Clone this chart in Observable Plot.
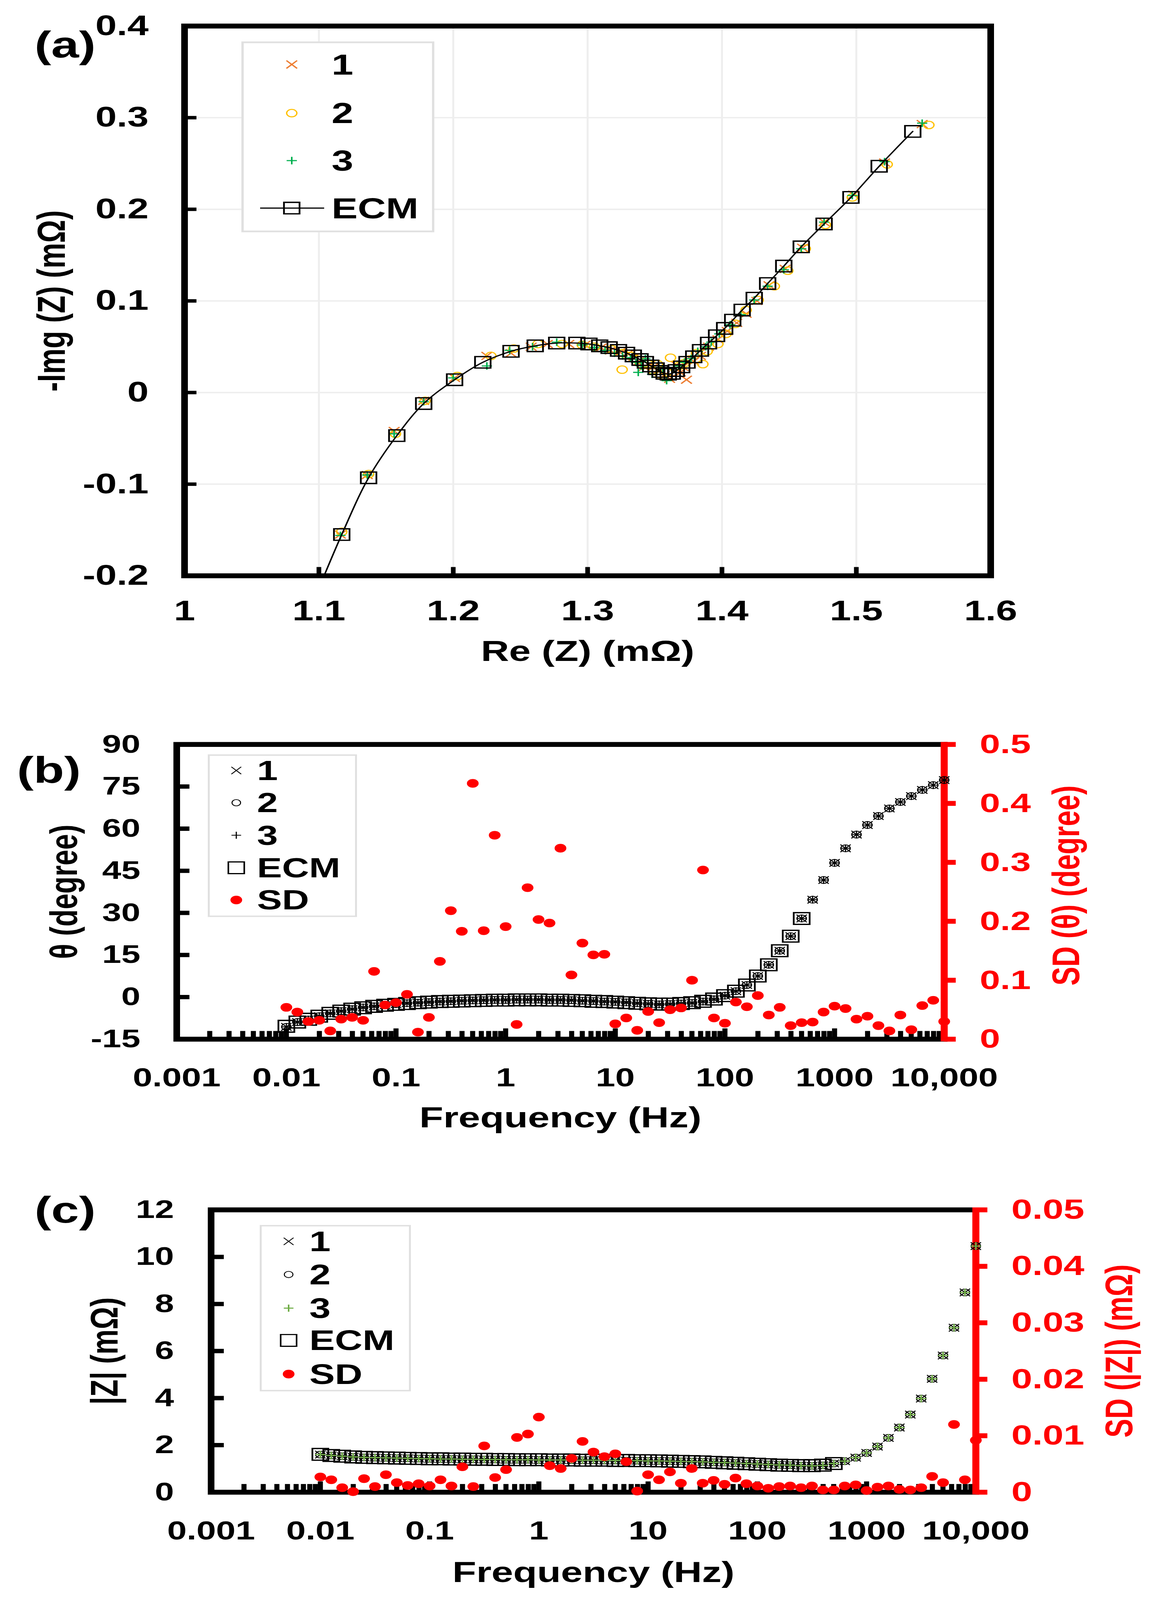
<!DOCTYPE html>
<html>
<head>
<meta charset="utf-8">
<script src="https://cdn.jsdelivr.net/npm/d3@7"></script>
<script src="https://cdn.jsdelivr.net/npm/@observablehq/plot@0.6"></script>
<style>
  html, body { margin: 0; padding: 0; background: #fff; }
  #root { position: relative; width: 2970px; height: 5559px; background: #fff;
          font-family: "Liberation Sans", Arial, Helvetica, sans-serif; font-weight: bold; }
  .legend { position: absolute; box-sizing: border-box; border-style: solid; border-color: #e0e0e0; background: #fff; }
  .lg-text { position: absolute; white-space: nowrap; color: #000; font-weight: bold; }
</style>
</head>
<body>
<div id="root"></div>
<script>
// ---------------- DATA ----------------
const NYQ_X_TICKS = [1, 1.1, 1.2, 1.3, 1.4, 1.5, 1.6];
const NYQ_X_LABELS = ["1", "1.1", "1.2", "1.3", "1.4", "1.5", "1.6"];
const NYQ_Y_TICKS = [-0.2, -0.1, 0, 0.1, 0.2, 0.3, 0.4];
const NYQ_Y_LABELS = ["-0.2", "-0.1", "0", "0.1", "0.2", "0.3", "0.4"];

const ecmRe = [1.542,1.517,1.496,1.476,1.459,1.446,1.434,1.424,1.415,1.408,
  1.402,1.396,1.390,1.384,1.379,1.374,1.370,1.366,1.363,1.360,
  1.357,1.354,1.351,1.347,1.343,1.339,1.334,1.329,1.323,1.316,
  1.309,1.301,1.292,1.277,1.261,1.243,1.222,1.201,1.178,1.158,
  1.137,1.117,1.094];
const ecmNegIm = [0.285,0.247,0.213,0.184,0.159,0.138,0.119,0.103,0.090,0.079,
  0.070,0.062,0.054,0.046,0.039,0.033,0.028,0.024,0.021,0.020,
  0.021,0.023,0.026,0.029,0.033,0.036,0.040,0.043,0.046,0.049,
  0.051,0.053,0.054,0.054,0.051,0.045,0.033,0.014,-0.012,-0.047,
  -0.093,-0.155,-0.235];

const re1 = [1.549,1.521,1.498,1.476,1.460,1.447,1.435,1.426,1.418,1.411,
  1.404,1.397,1.390,1.384,1.379,1.3736,1.371,1.369,1.366,1.361,
  1.357,1.352,1.349,1.346,1.342,1.338,1.334,1.330,1.324,1.317,
  1.310,1.298,1.286,1.270,1.258,1.243,1.225,1.201,1.178,1.156,
  1.136,1.116];
const negIm1 = [0.293,0.251,0.216,0.186,0.158,0.135,0.117,0.100,0.086,0.076,
  0.067,0.058,0.050,0.040,0.034,0.014,0.028,0.022,0.030,0.015,
  0.019,0.024,0.028,0.030,0.028,0.034,0.038,0.042,0.044,0.046,
  0.049,0.052,0.053,0.053,0.050,0.043,0.040,0.016,-0.009,-0.042,
  -0.090,-0.155];

const re2 = [1.554,1.523,1.497,1.477,1.462,1.449,1.439,1.427,1.418,1.410,
  1.403,1.397,1.389,1.3858,1.381,1.376,1.372,1.368,1.3617,1.359,
  1.354,1.352,1.349,1.345,1.341,1.3257,1.337,1.332,1.326,1.318,
  1.305,1.296,1.281,1.263,1.245,1.228,1.203,1.179,1.157,1.137,
  1.117];
const negIm2 = [0.292,0.249,0.213,0.183,0.157,0.133,0.116,0.101,0.090,0.075,
  0.064,0.053,0.045,0.031,0.043,0.036,0.032,0.029,0.038,0.022,
  0.020,0.031,0.024,0.031,0.030,0.025,0.036,0.040,0.043,0.047,
  0.050,0.052,0.053,0.053,0.048,0.040,0.018,-0.009,-0.045,-0.089,
  -0.152];

const re3 = [1.549,1.521,1.497,1.476,1.459,1.446,1.434,1.424,1.414,1.406,
  1.398,1.392,1.388,1.382,1.377,1.372,1.368,1.364,1.3588,1.356,
  1.353,1.348,1.3377,1.343,1.340,1.336,1.332,1.326,1.320,1.313,
  1.305,1.296,1.277,1.259,1.242,1.225,1.200,1.178,1.156,1.136,
  1.116];
const negIm3 = [0.294,0.252,0.215,0.186,0.157,0.134,0.116,0.101,0.085,0.074,
  0.064,0.055,0.050,0.045,0.037,0.033,0.029,0.027,0.013,0.026,
  0.027,0.020,0.022,0.037,0.029,0.033,0.038,0.040,0.043,0.046,
  0.049,0.052,0.055,0.050,0.046,0.029,0.016,-0.010,-0.045,-0.090,
  -0.156];

const FREQ = [0.01,0.01259,0.01585,0.01995,0.02512,0.03162,0.03981,0.05012,0.0631,0.07943,
  0.1,0.1259,0.1585,0.1995,0.2512,0.3162,0.3981,0.5012,0.631,0.7943,
  1,1.259,1.585,1.995,2.512,3.162,3.981,5.012,6.31,7.943,
  10,12.59,15.85,19.95,25.12,31.62,39.81,50.12,63.1,79.43,
  100,125.9,158.5,199.5,251.2,316.2,398.1,501.2,631,794.3,
  1000,1259,1585,1995,2512,3162,3981,5012,6310,7943,10000];
const FREQ_TICKS = [0.001, 0.01, 0.1, 1, 10, 100, 1000, 10000];
const FREQ_LABELS = ["0.001", "0.01", "0.1", "1", "10", "100", "1000", "10,000"];

const THETA_TICKS = [-15, 0, 15, 30, 45, 60, 75, 90];
const THETA_LABELS = ["-15", "0", "15", "30", "45", "60", "75", "90"];
const SD_THETA_TICKS = [0, 0.1, 0.2, 0.3, 0.4, 0.5];
const SD_THETA_LABELS = ["0", "0.1", "0.2", "0.3", "0.4", "0.5"];

const thetaMeas = [-10.6,-8.9,-8.0,-6.8,-5.8,-5.0,-4.3,-3.7,-3.3,-2.9,
  -2.5,-2.2,-2.0,-1.8,-1.6,-1.5,-1.3,-1.2,-1.1,-1.0,
  -1.0,-0.9,-0.9,-0.9,-1.0,-1.0,-1.1,-1.3,-1.4,-1.6,
  -1.7,-1.9,-2.2,-2.4,-2.6,-2.5,-2.3,-2.1,-1.6,-0.8,
  0.5,2.1,4.3,7.5,11.5,16.5,21.7,28.0,34.7,41.7,
  47.8,53.0,57.9,61.3,64.5,67.2,69.5,71.6,73.8,75.5,77.3];
const thetaECM = [-10.4,-8.9,-7.9,-6.8,-5.8,-5.0,-4.3,-3.8,-3.3,-2.9,
  -2.6,-2.3,-2.0,-1.8,-1.6,-1.5,-1.4,-1.3,-1.2,-1.1,
  -1.1,-1.0,-1.0,-1.0,-1.1,-1.1,-1.2,-1.3,-1.5,-1.6,
  -1.8,-2.0,-2.2,-2.4,-2.5,-2.5,-2.3,-2.0,-1.5,-0.7,
  0.5,2.1,4.3,7.5,11.5,16.5,21.7,28.0];
const sdTheta = [0.054,0.046,0.030,0.032,0.014,0.034,0.037,0.032,0.115,0.058,
  0.062,0.076,0.012,0.037,0.132,0.218,0.183,0.434,0.184,0.346,
  0.191,0.025,0.257,0.203,0.197,0.324,0.109,0.163,0.143,0.144,
  0.026,0.036,0.015,0.047,0.028,0.050,0.053,0.100,0.287,0.036,
  0.027,0.063,0.055,0.074,0.041,0.054,0.023,0.028,0.029,0.046,
  0.056,0.052,0.034,0.039,0.023,0.014,0.041,0.016,0.057,0.066,0.030];

const Z_TICKS = [0, 2, 4, 6, 8, 10, 12];
const Z_LABELS = ["0", "2", "4", "6", "8", "10", "12"];
const SD_Z_TICKS = [0, 0.01, 0.02, 0.03, 0.04, 0.05];
const SD_Z_LABELS = ["0", "0.01", "0.02", "0.03", "0.04", "0.05"];

const zMeas = [1.60,1.56,1.53,1.50,1.48,1.47,1.46,1.45,1.44,1.43,
  1.42,1.41,1.41,1.40,1.40,1.39,1.39,1.38,1.38,1.38,
  1.37,1.37,1.37,1.36,1.36,1.36,1.35,1.35,1.34,1.34,
  1.33,1.33,1.32,1.31,1.30,1.29,1.27,1.26,1.24,1.22,
  1.20,1.18,1.16,1.15,1.13,1.12,1.14,1.22,1.32,1.47,
  1.67,1.94,2.31,2.75,3.30,3.98,4.82,5.81,6.99,8.49,10.46];
const zECM = [1.61,1.56,1.53,1.50,1.48,1.47,1.46,1.45,1.44,1.43,
  1.42,1.42,1.41,1.41,1.40,1.40,1.39,1.39,1.38,1.38,
  1.38,1.37,1.37,1.37,1.36,1.36,1.36,1.35,1.35,1.34,
  1.34,1.33,1.32,1.31,1.30,1.29,1.27,1.25,1.23,1.21,
  1.19,1.17,1.15,1.14,1.13,1.13,1.15,1.22];
const sdZ = [0.0027,0.0022,0.0008,0.0001,0.0024,0.0010,0.0031,0.0017,0.0012,0.0015,
  0.0011,0.0022,0.0011,0.0045,0.0010,0.0082,0.0026,0.0040,0.0097,0.0103,
  0.0133,0.0047,0.0042,0.0060,0.0090,0.0071,0.0063,0.0068,0.0054,0.0002,
  0.0031,0.0022,0.0036,0.0016,0.0042,0.0016,0.0021,0.0014,0.0025,0.0015,
  0.0011,0.0007,0.0010,0.0011,0.0008,0.0011,0.0004,0.0004,0.0011,0.0013,
  0.0003,0.0009,0.0011,0.0005,0.0004,0.0008,0.0028,0.0017,0.0120,0.0022,0.0092];

// ---------------- STYLE ----------------
const FONT = '"Liberation Sans", Arial, Helvetica, sans-serif';
const RED = "#ff0000";
const ORANGE = "#ED7D31", GOLD = "#FFC000", GREEN_A = "#00B050", GREEN_C = "#70AD47";
const W = 2970, H = 5559;
const TXT = {fontFamily: FONT, fontWeight: "bold", fill: "black"};
const root = document.getElementById("root");

function place(svg, top) {
  svg.style.position = "absolute";
  svg.style.left = "0px";
  svg.style.top = top + "px";
  svg.style.maxWidth = "none";
  svg.style.background = "transparent";
  root.appendChild(svg);
}

// ---------------- PANEL (a) ----------------
(function () {
  const ml = 472, mr = 434, mt = 90, mb = 400, h = 2400;
  const FW = W - ml - mr, FH = h - mt - mb;
  const ecm = ecmRe.map((x, i) => ({x, y: ecmNegIm[i]}));
  const s1 = re1.map((x, i) => ({x, y: negIm1[i]}));
  const s2 = re2.map((x, i) => ({x, y: negIm2[i]}));
  const s3 = re3.map((x, i) => ({x, y: negIm3[i]}));
  const svg = Plot.plot({
    width: W, height: h, marginLeft: ml, marginRight: mr, marginTop: mt, marginBottom: mb,
    style: {fontFamily: FONT, fontWeight: "bold", background: "transparent", color: "black", overflow: "visible"},
    x: {domain: [1, 1.6], axis: null},
    y: {domain: [-0.2, 0.4], axis: null},
    marks: [
      Plot.ruleX(NYQ_X_TICKS.slice(1, -1), {x: d => d, stroke: "#eeeeee", strokeWidth: 5}),
      Plot.ruleY(NYQ_Y_TICKS.slice(1, -1), {y: d => d, stroke: "#eeeeee", strokeWidth: 5}),
      Plot.dot(s1, {x: "x", y: "y", symbol: "times", r: 12.5, stroke: ORANGE, strokeWidth: 4, clip: true}),
      Plot.dot(s2, {x: "x", y: "y", symbol: "circle", r: 13, stroke: GOLD, fill: "none", strokeWidth: 3.5, clip: true}),
      Plot.dot(s3, {x: "x", y: "y", symbol: "plus", r: 8.5, stroke: GREEN_A, strokeWidth: 4, clip: true}),
      Plot.line(ecm, {x: "x", y: "y", curve: "catmull-rom", stroke: "black", strokeWidth: 4, clip: true}),
      Plot.dot(ecm, {x: "x", y: "y", symbol: "square", r: 22.5, stroke: "black", fill: "none", strokeWidth: 4.5, clip: true}),
      Plot.tickX(NYQ_X_TICKS, {x: d => d, insetTop: FH - 30, stroke: "black", strokeWidth: 12}),
      Plot.tickY(NYQ_Y_TICKS, {y: d => d, insetRight: FW - 31, stroke: "black", strokeWidth: 12}),
      Plot.frame({stroke: "black", strokeWidth: 17}),
      Plot.text(NYQ_Y_TICKS, {...TXT, y: d => d, text: (d, i) => NYQ_Y_LABELS[i], frameAnchor: "left", textAnchor: "end", lineAnchor: "middle", dx: -92, fontSize: 98}),
      Plot.text(NYQ_X_TICKS, {...TXT, x: d => d, text: (d, i) => NYQ_X_LABELS[i], frameAnchor: "bottom", textAnchor: "middle", lineAnchor: "top", dy: 85, fontSize: 98}),
      Plot.text(["Re (Z) (mΩ)"], {...TXT, text: d => d, frameAnchor: "bottom", textAnchor: "middle", lineAnchor: "middle", dy: 264, fontSize: 100}),
      Plot.text(["-Img (Z) (mΩ)"], {...TXT, text: d => d, frameAnchor: "left", textAnchor: "middle", lineAnchor: "middle", rotate: -90, dx: -339, fontSize: 100}),
      Plot.text(["(a)"], {...TXT, text: d => d, frameAnchor: "top-left", textAnchor: "start", lineAnchor: "middle", dx: -384, dy: 68, fontSize: 128})
    ]
  });
  place(svg, 0);
})();

// ---------------- PANELS (b), (c) ----------------
function freqPanel(o) {
  const FW = W - o.ml - o.mr, FH = o.h - o.mt - o.mb;
  const sdMin = o.sdTicks[0], sdMax = o.sdTicks[o.sdTicks.length - 1];
  const toLeft = v => o.yMin + (v - sdMin) * (o.yMax - o.yMin) / (sdMax - sdMin);
  const fMin = FREQ_TICKS[0], fMax = FREQ_TICKS[FREQ_TICKS.length - 1];
  const minor = d3.scaleLog().domain([fMin, fMax]).ticks()
    .filter(v => Math.abs(Math.log10(v) - Math.round(Math.log10(v))) > 1e-6);
  const meas = FREQ.map((f, i) => ({f, v: o.meas[i], sd: o.sd[i]}));
  const ecm = o.ecm.map((v, i) => ({f: FREQ[i], v}));
  return Plot.plot({
    width: W, height: o.h, marginLeft: o.ml, marginRight: o.mr, marginTop: o.mt, marginBottom: o.mb,
    style: {fontFamily: FONT, fontWeight: "bold", background: "transparent", color: "black", overflow: "visible"},
    x: {type: "log", domain: [fMin, fMax], axis: null},
    y: {domain: [o.yMin, o.yMax], axis: null},
    marks: [
      Plot.tickX(minor, {x: d => d, insetTop: FH - 28, stroke: "black", strokeWidth: 13}),
      Plot.tickX(FREQ_TICKS, {x: d => d, insetTop: FH - 37, stroke: "black", strokeWidth: 13}),
      Plot.tickY(o.yTicks, {y: d => d, insetRight: FW - 33, stroke: "black", strokeWidth: 15}),
      Plot.frame({stroke: "black", strokeWidth: 17}),
      Plot.ruleX([fMax], {x: d => d, stroke: RED, strokeWidth: 18, insetTop: -8, insetBottom: -8}),
      Plot.tickY(o.sdTicks, {y: d => toLeft(d), insetLeft: FW, insetRight: -30, stroke: RED, strokeWidth: 17}),
      Plot.dot(ecm, {x: "f", y: "v", symbol: "square", r: 23, stroke: "black", fill: "none", strokeWidth: 4.5}),
      Plot.dot(meas, {x: "f", y: "v", symbol: "times", r: 12, stroke: "black", strokeWidth: 3}),
      Plot.dot(meas, {x: "f", y: "v", symbol: "circle", r: 12, stroke: "black", fill: "none", strokeWidth: 3}),
      Plot.dot(meas, {x: "f", y: "v", symbol: "plus", r: 8.5, stroke: o.plusColor, strokeWidth: o.plusWidth}),
      Plot.dot(meas, {x: "f", y: d => toLeft(d.sd), r: 15, fill: RED, stroke: "none"}),
      Plot.text(o.yTicks, {...TXT, y: d => d, text: (d, i) => o.yLabels[i], frameAnchor: "left", textAnchor: "end", lineAnchor: "middle", dx: -o.yPad, fontSize: 88}),
      Plot.text(o.sdTicks, {...TXT, fill: RED, y: d => toLeft(d), text: (d, i) => o.sdLabels[i], frameAnchor: "right", textAnchor: "start", lineAnchor: "middle", dx: 91, fontSize: o.sdFont}),
      Plot.text(FREQ_TICKS, {...TXT, x: d => d, text: (d, i) => FREQ_LABELS[i], frameAnchor: "bottom", textAnchor: "middle", lineAnchor: "top", dy: 100, fontSize: 90}),
      Plot.text(["Frequency (Hz)"], {...TXT, text: d => d, frameAnchor: "bottom", textAnchor: "middle", lineAnchor: "middle", dy: o.xTitleDy, fontSize: 100}),
      Plot.text([o.yTitle], {...TXT, text: d => d, frameAnchor: "left", textAnchor: "middle", lineAnchor: "middle", rotate: -90, dx: o.yTitleDx, fontSize: 98}),
      Plot.text([o.sdTitle], {...TXT, fill: RED, text: d => d, frameAnchor: "right", textAnchor: "middle", lineAnchor: "middle", rotate: -90, dx: o.sdTitleDx, dy: o.sdTitleDy, fontSize: 98}),
      Plot.text([o.tag], {...TXT, text: d => d, frameAnchor: "top-left", textAnchor: "start", lineAnchor: "middle", dx: o.tagDx, dy: o.tagDy, fontSize: 128})
    ]
  });
}

place(freqPanel({
  h: 1600, ml: 452, mr: 553, mt: 186, mb: 390,
  yMin: -15, yMax: 90, yTicks: THETA_TICKS, yLabels: THETA_LABELS, yPad: 93,
  sdTicks: SD_THETA_TICKS, sdLabels: SD_THETA_LABELS, sdFont: 94,
  meas: thetaMeas, ecm: thetaECM, sd: sdTheta, plusColor: "black", plusWidth: 3,
  xTitleDy: 274, yTitle: "θ (degree)", yTitleDx: -287,
  sdTitle: "SD (θ) (degree)", sdTitleDx: 314, sdTitleDy: -22,
  tag: "(b)", tagDx: -409, tagDy: 92
}), 2400);

place(freqPanel({
  h: 1559, ml: 540, mr: 472, mt: 203, mb: 375,
  yMin: 0, yMax: 12, yTicks: Z_TICKS, yLabels: Z_LABELS, yPad: 95,
  sdTicks: SD_Z_TICKS, sdLabels: SD_Z_LABELS, sdFont: 96,
  meas: zMeas, ecm: zECM, sd: sdZ, plusColor: GREEN_C, plusWidth: 4,
  xTitleDy: 280, yTitle: "|Z| (mΩ)", yTitleDx: -271,
  sdTitle: "SD (|Z|) (mΩ)", sdTitleDx: 369, sdTitleDy: 0,
  tag: "(c)", tagDx: -452, tagDy: 3
}), 4000);

// ---------------- LEGENDS ----------------
function shapeSvg(it) {
  const sw = it.sw || 0;
  if (it.symbol === "circle") {
    return `<circle cx="0" cy="0" r="${it.r}" fill="${it.fill || "none"}" stroke="${it.stroke || "none"}" stroke-width="${sw}"/>`;
  }
  const sym = {times: d3.symbolTimes, plus: d3.symbolPlus, square: d3.symbolSquare}[it.symbol];
  const d = d3.symbol(sym, it.r * it.r * Math.PI)();
  return `<path d="${d}" fill="${it.fill || "none"}" stroke="${it.stroke || "none"}" stroke-width="${sw}"/>`;
}
function legend(o) {
  const box = document.createElement("div");
  box.className = "legend";
  Object.assign(box.style, {left: o.left + "px", top: o.top + "px", width: o.width + "px",
    height: o.height + "px", borderWidth: o.border + "px"});
  root.appendChild(box);
  o.items.forEach((it, i) => {
    const yc = o.rows[i], s = 240;
    const wrap = document.createElement("div");
    wrap.innerHTML = `<svg width="${s}" height="${s}" viewBox="${-s / 2} ${-s / 2} ${s} ${s}" style="position:absolute;left:${o.symX - s / 2}px;top:${yc - s / 2}px;overflow:visible">` +
      (it.line ? `<line x1="${it.line[0]}" x2="${it.line[1]}" y1="0" y2="0" stroke="black" stroke-width="4"/>` : "") +
      shapeSvg(it) + `</svg>`;
    root.appendChild(wrap.firstChild);
    const t = document.createElement("div");
    t.className = "lg-text";
    t.textContent = it.label;
    Object.assign(t.style, {left: o.textX + "px", top: (yc - 60) + "px", height: "120px",
      lineHeight: "120px", fontSize: o.font + "px", fontFamily: FONT});
    root.appendChild(t);
  });
}

legend({
  left: 618, top: 144, width: 494, height: 663, border: 6, symX: 747, textX: 849, font: 100,
  rows: [224, 393, 558, 723],
  items: [
    {label: "1", symbol: "times", r: 12.5, stroke: ORANGE, sw: 4},
    {label: "2", symbol: "circle", r: 13, stroke: GOLD, sw: 3.5},
    {label: "3", symbol: "plus", r: 8.5, stroke: GREEN_A, sw: 4},
    {label: "ECM", symbol: "square", r: 22.5, stroke: "black", sw: 4.5, line: [-81, 83]}
  ]
});
legend({
  left: 532, top: 2621, width: 382, height: 565, border: 5, symX: 605, textX: 658, font: 96,
  rows: [2677, 2789, 2902, 3015, 3127],
  items: [
    {label: "1", symbol: "times", r: 11.5, stroke: "black", sw: 2.5},
    {label: "2", symbol: "circle", r: 11, stroke: "black", sw: 2.5},
    {label: "3", symbol: "plus", r: 8, stroke: "black", sw: 3},
    {label: "ECM", symbol: "square", r: 23, stroke: "black", sw: 4},
    {label: "SD", symbol: "circle", r: 15, fill: RED}
  ]
});
legend({
  left: 665, top: 4256, width: 387, height: 578, border: 5, symX: 739, textX: 792, font: 98,
  rows: [4313, 4428, 4545, 4657, 4774],
  items: [
    {label: "1", symbol: "times", r: 11.5, stroke: "black", sw: 2.5},
    {label: "2", symbol: "circle", r: 11, stroke: "black", sw: 2.5},
    {label: "3", symbol: "plus", r: 8, stroke: GREEN_C, sw: 4},
    {label: "ECM", symbol: "square", r: 23, stroke: "black", sw: 4},
    {label: "SD", symbol: "circle", r: 15, fill: RED}
  ]
});

// ---------------- FIT TO THE VISIBLE WINDOW ----------------
// The browser window may be shorter than the figure; scale the whole figure so every part is visible.
(function fit() {
  const sx = Math.min(1, window.innerWidth / W);
  const sy = Math.min(1, window.innerHeight / H);
  if (sx < 1 || sy < 1) {
    document.documentElement.style.overflow = "hidden";
    document.body.style.overflow = "hidden";
    document.body.style.height = window.innerHeight + "px";
    root.style.transformOrigin = "0 0";
    root.style.transform = `scale(${sx}, ${sy})`;
  }
})();
</script>
</body>
</html>
